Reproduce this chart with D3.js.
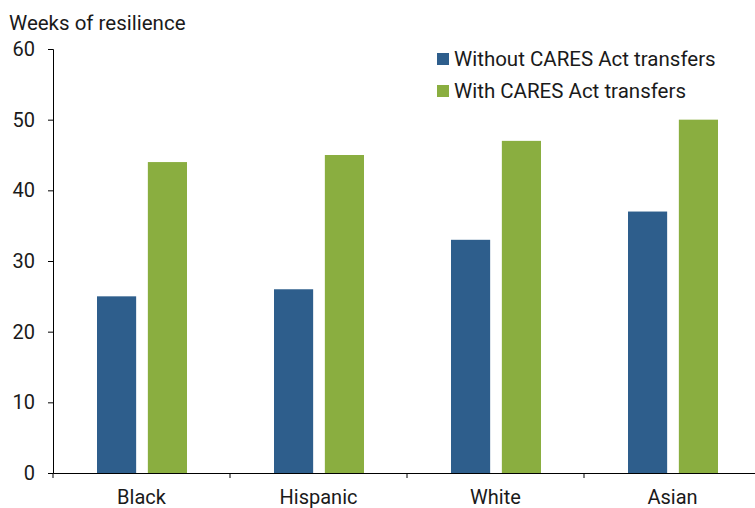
<!DOCTYPE html>
<html lang="en">
<head>
  <meta charset="UTF-8">
  <title>Weeks of resilience</title>
  <script src="https://cdn.jsdelivr.net/npm/d3@7"></script>
  <style>
    body { margin: 0; background: #fff; }
    svg text { font-family: Roboto, "Noto Sans", sans-serif; fill: #1a1a1a; }
  </style>
</head>
<body>
  <div id="container"></div>
  <script>
    const groups = ["Black", "Hispanic", "White", "Asian"];
    const seriesNames = ["Without CARES Act transfers", "With CARES Act transfers"];
    const withoutCares = [25, 26, 33, 37];
    const withCares = [44, 45, 47, 50];
    const yTicks = [0, 10, 20, 30, 40, 50, 60];

    const blue = "#2E5E8C";
    const green = "#8AAE40";

    const width = 755;
    const height = 508;
    const margin = { top: 49, right: -6, bottom: 35, left: 53 };

    const data = groups.map((g, i) => ({ group: g, values: [withoutCares[i], withCares[i]] }));

    const svg = d3.select("#container")
      .append("svg")
      .attr("width", width)
      .attr("height", height);

    const x0 = d3.scaleBand()
      .domain(groups)
      .range([margin.left, width - margin.right])
      .padding(0);

    const half = x0.bandwidth() / 2;
    const x1 = d3.scaleBand()
      .domain(seriesNames)
      .range([half - 44.5, half + 45.5])
      .paddingInner(0.23);

    const y = d3.scaleLinear()
      .domain([0, 60])
      .range([height - margin.bottom, margin.top]);

    // bars
    const g = svg.append("g").selectAll("g")
      .data(data)
      .enter()
      .append("g")
      .attr("transform", d => `translate(${x0(d.group)},0)`);

    g.selectAll("rect")
      .data(d => d.values.map((v, i) => ({ key: seriesNames[i], value: v })))
      .enter()
      .append("rect")
      .attr("x", d => x1(d.key))
      .attr("y", d => y(d.value))
      .attr("width", x1.bandwidth())
      .attr("height", d => y(0) - y(d.value))
      .attr("fill", (d, i) => i === 0 ? blue : green);

    // y axis
    const yAxis = svg.append("g")
      .attr("transform", `translate(${margin.left},0)`)
      .call(d3.axisLeft(y).tickValues(yTicks).tickSizeOuter(0).tickSize(5).tickPadding(13));
    yAxis.selectAll("text").style("font-size", "20px");

    // x axis
    const xAxis = svg.append("g")
      .attr("transform", `translate(0,${y(0)})`)
      .call(d3.axisBottom(x0).tickSize(0).tickSizeOuter(0).tickPadding(17));
    xAxis.selectAll("text").style("font-size", "20px");

    // category separator ticks
    svg.append("g").selectAll("line")
      .data(groups)
      .enter()
      .append("line")
      .attr("x1", d => x0(d))
      .attr("x2", d => x0(d))
      .attr("y1", y(0))
      .attr("y2", y(0) + 5)
      .attr("stroke", "#000");

    svg.selectAll(".domain").attr("stroke", "#000");
    svg.selectAll(".tick line").attr("stroke", "#000");

    // axis title
    svg.append("text")
      .attr("x", 9)
      .attr("y", 30)
      .style("font-size", "20.5px")
      .text("Weeks of resilience");

    // legend
    const legend = svg.append("g")
      .attr("transform", "translate(437,53)");

    seriesNames.forEach((name, i) => {
      legend.append("rect")
        .attr("x", 0)
        .attr("y", i * 32)
        .attr("width", 12)
        .attr("height", 12)
        .attr("fill", i === 0 ? blue : green);
      legend.append("text")
        .attr("x", 17)
        .attr("y", i * 32 + 13)
        .style("font-size", "20.5px")
        .text(name);
    });
  </script>
</body>
</html>
